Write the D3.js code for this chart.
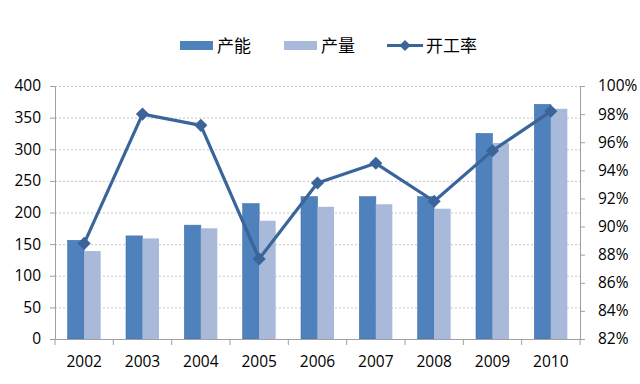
<!DOCTYPE html>
<html><head><meta charset="utf-8">
<script src="https://cdn.jsdelivr.net/npm/d3@7"></script>
<style>body{margin:0;background:#fff}svg{display:block}</style>
</head><body>
<script>
const categories = ["2002","2003","2004","2005","2006","2007","2008","2009","2010"];
const capacity = [156, 163, 180, 214, 225, 225, 225, 325, 371];
const output = [139, 159, 175, 187, 209, 213, 206, 310, 364];
const utilization = [88.8, 98.0, 97.2, 87.7, 93.1, 94.5, 91.8, 95.4, 98.2];
const leftTicks = [0,50,100,150,200,250,300,350,400];
const rightTicks = [82,84,86,88,90,92,94,96,98,100];
const seriesNames = ["产能","产量","开工率"];

const W=640,H=384;
const m={l:55,r:60,t:86,b:45};
const svg=d3.select("body").append("svg").attr("width",W).attr("height",H);
const font="'Open Sans','Noto Sans CJK SC',sans-serif";
const x=d3.scaleBand().domain(categories).range([m.l,W-m.r]);
const y=d3.scaleLinear().domain([0,400]).range([H-m.b,m.t]);
const y2=d3.scaleLinear().domain([82,100]).range([H-m.b,m.t]);
const c1="#4F81BD", c2="#A8B9D9", cl="#3B659A";

// gridlines
svg.append("g").selectAll("line").data(leftTicks.slice(1)).join("line")
 .attr("x1",m.l).attr("x2",W-m.r).attr("y1",d=>y(d)+0.5).attr("y2",d=>y(d)+0.5)
 .attr("stroke","#C8C8C8").attr("stroke-dasharray","2,2");

const bw=16.5;
const g=svg.append("g");
g.selectAll(".b1").data(categories).join("rect")
 .attr("x",(d)=>x(d)+x.bandwidth()/2-bw).attr("width",bw)
 .attr("y",(d,i)=>y(capacity[i])).attr("height",(d,i)=>y(0)-y(capacity[i]))
 .attr("fill",c1).attr("stroke","#4474AE").attr("stroke-width",0.6);
g.selectAll(".b2").data(categories).join("rect")
 .attr("x",(d)=>x(d)+x.bandwidth()/2).attr("width",bw)
 .attr("y",(d,i)=>y(output[i])).attr("height",(d,i)=>y(0)-y(output[i]))
 .attr("fill",c2);

// axes
const ax=svg.append("g").attr("transform",`translate(0,${H-m.b})`)
 .call(d3.axisBottom(x).tickSize(6).tickSizeOuter(0).tickPadding(11));
ax.selectAll(".tick line").attr("transform",`translate(${-x.bandwidth()/2},0)`);
ax.append("line").attr("x1",W-m.r).attr("x2",W-m.r).attr("y1",0).attr("y2",6).attr("stroke","#A0A0A0");
const ay=svg.append("g").attr("transform",`translate(${m.l},0)`)
 .call(d3.axisLeft(y).tickValues(leftTicks).tickSize(5).tickSizeOuter(0).tickPadding(9));
const ay2=svg.append("g").attr("transform",`translate(${W-m.r},0)`)
 .call(d3.axisRight(y2).tickValues(rightTicks).tickSize(5).tickSizeOuter(0).tickPadding(13).tickFormat(d=>d+"%"));
[ax,ay,ay2].forEach(a=>{
 a.selectAll("path,line").attr("stroke","#A0A0A0");
 a.selectAll("text").attr("font-family",font).attr("font-size",15.5).attr("fill","#000");
});

// line
const line=d3.line().x((d,i)=>x(categories[i])+x.bandwidth()/2).y(d=>y2(d));
svg.append("path").datum(utilization).attr("d",line).attr("fill","none")
 .attr("stroke",cl).attr("stroke-width",3.2).attr("stroke-linejoin","round");
const diamond=d3.symbol().type(d3.symbolDiamond2).size(110);
svg.selectAll(".mk").data(utilization).join("path")
 .attr("transform",(d,i)=>`translate(${x(categories[i])+x.bandwidth()/2},${y2(d)})`)
 .attr("d",diamond).attr("fill",cl);

// legend
const lg=svg.append("g");
lg.append("rect").attr("x",180).attr("y",41).attr("width",33).attr("height",9).attr("fill",c1);
lg.append("text").attr("x",217).attr("y",52).text(seriesNames[0]);
lg.append("rect").attr("x",284).attr("y",41).attr("width",33).attr("height",9).attr("fill",c2);
lg.append("text").attr("x",321).attr("y",52).text(seriesNames[1]);
lg.append("line").attr("x1",387).attr("x2",423).attr("y1",45.5).attr("y2",45.5).attr("stroke",cl).attr("stroke-width",3);
lg.append("path").attr("transform","translate(405,45.5)").attr("d",d3.symbol().type(d3.symbolDiamond2).size(80)).attr("fill",cl);
lg.append("text").attr("x",426).attr("y",52).text(seriesNames[2]);
lg.selectAll("text").attr("font-family","'Noto Sans CJK SC',sans-serif").attr("font-size",17).attr("fill","#000");
</script>
</body></html>
